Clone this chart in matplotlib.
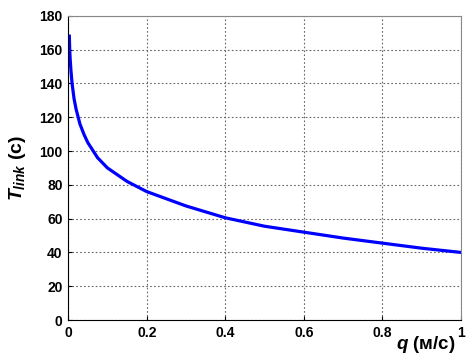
import matplotlib
matplotlib.use("Agg")
import matplotlib.pyplot as plt

q = [0.003, 0.004, 0.005, 0.007, 0.01, 0.015, 0.02, 0.03, 0.04, 0.05,
     0.075, 0.1, 0.15, 0.2, 0.3, 0.4, 0.5, 0.6, 0.7, 0.8, 0.9, 1.0]
t_link = [168, 160, 155, 148, 140, 131, 125, 116, 110, 105,
          96, 90, 82, 76, 67.5, 60.5, 55.5, 52, 48.5, 45.5, 42.5, 40]
x_ticks = [0, 0.2, 0.4, 0.6, 0.8, 1]
x_labels = ["0", "0.2", "0.4", "0.6", "0.8", "1"]
y_ticks = list(range(0, 181, 20))

plt.rcParams["font.family"] = ["Liberation Sans", "DejaVu Sans"]
plt.rcParams["mathtext.fontset"] = "custom"
plt.rcParams["mathtext.it"] = "Liberation Sans:italic:bold"
plt.rcParams["mathtext.rm"] = "Liberation Sans:bold"

fig = plt.figure(figsize=(4.7, 3.6), dpi=100)
ax = fig.add_axes([0.145, 0.111, 0.836, 0.845])
ax.plot(q, t_link, color="#0000ff", lw=2.3, solid_joinstyle="round")

ax.set_xlim(0, 1)
ax.set_ylim(0, 180)
ax.set_xticks(x_ticks)
ax.set_xticklabels(x_labels)
ax.set_yticks(y_ticks)
ax.tick_params(direction="in", length=3, labelsize=10, pad=4)
for lab in ax.get_xticklabels() + ax.get_yticklabels():
    lab.set_fontweight("bold")
ax.grid(True, linestyle=(0, (1.5, 2)), color="#666666", lw=0.8)
for s in ("top", "right"):
    ax.spines[s].set_color("#888888")

ax.set_ylabel(r"$T_{link}$ (с)", fontsize=14, fontweight="bold", labelpad=8)
ax.text(0.985, -0.08, r"$q$ (м/с)", transform=ax.transAxes, ha="right", va="center",
        fontsize=13.5, fontweight="bold")

fig.savefig("out.png", dpi=100)
